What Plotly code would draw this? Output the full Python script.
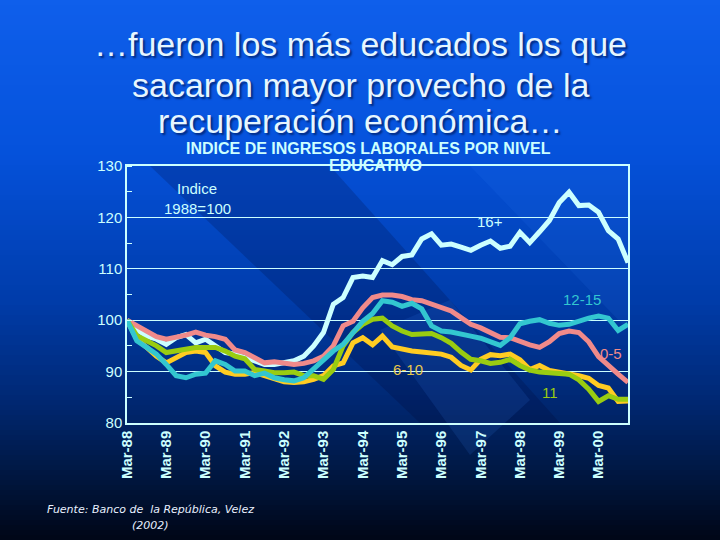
import plotly.graph_objects as go

# ---------------- data ----------------
quarters = list(range(52))  # Mar-88 ... Dec-00, quarterly
tick_pos = [0, 4, 8, 12, 16, 20, 24, 28, 32, 36, 40, 44, 48]
tick_labels = ["Mar-88", "Mar-89", "Mar-90", "Mar-91", "Mar-92", "Mar-93", "Mar-94",
               "Mar-95", "Mar-96", "Mar-97", "Mar-98", "Mar-99", "Mar-00"]

s_16 = [100, 98.2, 96.9, 96.3, 95.3, 96.6, 97.2, 95.6, 96.3, 95.0, 93.7, 93.4, 92.7,
        92.1, 91.4, 91.4, 91.7, 92.1, 93.0, 95.0, 97.6, 103.1, 104.4, 108.3, 108.6,
        108.3, 111.6, 110.8, 112.4, 112.7, 115.8, 116.8, 114.6, 114.8, 114.2, 113.6,
        114.6, 115.4, 114.0, 114.4, 117.1, 115.1, 117.2, 119.4, 122.9, 124.9, 122.3,
        122.4, 121.0, 117.4, 115.8, 111.2]
s_0_5 = [100, 98.9, 97.7, 96.8, 96.3, 96.6, 97.1, 97.7, 97.1, 96.8, 96.3, 94.2, 93.7,
         92.7, 91.7, 91.9, 91.6, 91.4, 91.6, 92.1, 93.0, 95.0, 98.9, 99.8, 102.4, 104.4,
         104.9, 104.9, 104.6, 104.0, 103.8, 103.2, 102.5, 101.8, 100.5, 99.2, 98.5, 97.5,
         96.7, 96.6, 95.8, 95.2, 94.7, 95.8, 97.4, 97.9, 97.6, 95.8, 92.9, 91.1, 89.5, 87.9]
s_6_10 = [100, 96.3, 94.7, 93.0, 91.7, 92.7, 93.7, 94.0, 93.7, 91.1, 89.9, 89.5, 89.5,
          89.8, 89.2, 88.5, 88.0, 87.9, 88.0, 88.5, 89.2, 91.1, 91.7, 95.6, 96.6, 95.2,
          96.9, 94.8, 94.3, 94.0, 93.8, 93.6, 93.4, 92.8, 91.2, 90.3, 92.4, 93.3, 93.1,
          93.4, 92.3, 90.4, 91.2, 90.2, 89.9, 89.7, 89.2, 88.7, 87.3, 86.8, 84.2, 84.3]
s_11 = [100, 97.0, 96.0, 95.0, 93.7, 94.0, 94.5, 94.7, 94.7, 94.7, 94.0, 93.0, 92.5,
        90.4, 90.1, 89.8, 89.8, 89.9, 89.2, 89.2, 88.5, 90.4, 95.0, 97.6, 99.2, 100.2,
        100.4, 98.9, 97.9, 97.2, 97.3, 97.4, 96.6, 95.5, 93.8, 92.4, 92.1, 91.6, 91.8,
        92.4, 91.2, 90.3, 89.9, 89.8, 89.8, 89.5, 88.4, 86.6, 84.2, 85.3, 84.6, 84.6]
s_12_15 = [100, 96.0, 94.7, 93.4, 91.4, 89.2, 88.8, 89.5, 89.7, 92.1, 91.4, 90.1, 90.1,
           89.2, 89.7, 88.8, 88.4, 88.2, 88.8, 90.5, 92.4, 94.0, 95.3, 97.6, 99.8, 101.3,
           103.8, 103.5, 102.7, 103.3, 102.2, 98.9, 97.9, 97.7, 97.4, 96.9, 96.5, 95.8,
           95.1, 96.6, 99.3, 99.8, 100.1, 99.4, 99.0, 99.2, 99.9, 100.4, 100.8, 100.4,
           98.0, 99.2]

y_ticks = [80, 90, 100, 110, 120, 130]

series = [
    ("16+", s_16, "#ccffff"),
    ("0-5", s_0_5, "#f08a8a"),
    ("6-10", s_6_10, "#ffcc22"),
    ("11", s_11, "#99cc11"),
    ("12-15", s_12_15, "#33c6d0"),
]

# ---------------- layout helpers ----------------
W, H = 720, 540
L, R, T, B = 127, 628, 166, 423


def px(x):
    return (x - L) / (R - L)


def py(y):
    return (B - y) / (B - T)


fig = go.Figure()
for name, vals, col in series:
    fig.add_trace(go.Scatter(x=quarters, y=vals, mode="lines", name=name,
                             line=dict(color=col, width=5), hoverinfo="skip"))

# background gradient
stops = [(0, (15, 95, 235)), (150, (5, 82, 220)), (300, (0, 60, 170)),
         (400, (0, 40, 115)), (470, (0, 24, 68)), (540, (0, 6, 22))]


def col_at(y):
    for (y0, c0), (y1, c1) in zip(stops[:-1], stops[1:]):
        if y0 <= y <= y1:
            t = (y - y0) / (y1 - y0)
            return "rgb(%d,%d,%d)" % tuple(round(a + (b - a) * t) for a, b in zip(c0, c1))
    return "rgb(0,6,22)"


shapes = []
step = 5
for y in range(0, H, step):
    shapes.append(dict(type="rect", xref="paper", yref="paper", layer="below",
                       x0=px(-5), x1=px(W + 5), y0=py(y + step + 0.5), y1=py(y),
                       fillcolor=col_at(y + step / 2), line=dict(width=0)))


def diag(pts, color):
    path = "M " + " L ".join("%f,%f" % (px(a), py(b)) for a, b in pts) + " Z"
    return dict(type="path", xref="paper", yref="paper", layer="below", path=path,
                fillcolor=color, line=dict(width=0))


shapes.append(diag([(150, 166), (330, 166), (560, 423), (420, 423)], "rgba(0,0,40,0.18)"))
shapes.append(diag([(470, 166), (628, 166), (628, 300), (628, 330)], "rgba(60,140,255,0.10)"))
shapes.append(diag([(380, 330), (450, 300), (530, 400), (470, 455)], "rgba(60,140,255,0.12)"))

title_font = dict(family="Liberation Sans, Arial", size=34, color="#e6f6ff",
                  shadow="2px 2px 2px #002a80")
ann = []
for txt, yy in [("…fueron los más educados los que", 44),
                ("sacaron mayor provecho de la", 85),
                ("recuperación económica…", 121)]:
    ann.append(dict(text=txt, x=px(360), y=py(yy), xref="paper", yref="paper",
                    showarrow=False, font=title_font, xanchor="center", yanchor="middle"))

sub_font = dict(family="Liberation Sans, Arial", size=16, color="#ccffff", weight="bold")
ann.append(dict(text="INDICE DE INGRESOS LABORALES POR NIVEL", x=px(368), y=py(148),
                xref="paper", yref="paper", showarrow=False, font=sub_font,
                xanchor="center", yanchor="middle"))
ann.append(dict(text="EDUCATIVO", x=px(375), y=py(165), xref="paper", yref="paper",
                showarrow=False, font=sub_font, xanchor="center", yanchor="middle"))

lab_font = dict(family="Liberation Sans, Arial", size=15, color="#ccffff")
ann.append(dict(text="Indice", x=px(197), y=py(188), xref="paper", yref="paper",
                showarrow=False, font=lab_font, xanchor="center", yanchor="middle"))
ann.append(dict(text="1988=100", x=px(197), y=py(208), xref="paper", yref="paper",
                showarrow=False, font=lab_font, xanchor="center", yanchor="middle"))

for txt, xx, yy, c in [("16+", 490, 221, "#ccffff"), ("12-15", 582, 299, "#33c6d0"),
                       ("0-5", 611, 353, "#f08a8a"), ("6-10", 408, 369, "#e8c84a"),
                       ("11", 550, 392, "#99cc11")]:
    ann.append(dict(text=txt, x=px(xx), y=py(yy), xref="paper", yref="paper",
                    showarrow=False, xanchor="center", yanchor="middle",
                    font=dict(family="Liberation Sans, Arial", size=15, color=c)))

src_font = dict(family="DejaVu Sans, Liberation Sans", size=11, color="#e8f0ff", style="italic")
ann.append(dict(text="Fuente: Banco de  la República, Velez", x=px(150), y=py(509),
                xref="paper", yref="paper", showarrow=False, font=src_font,
                xanchor="center", yanchor="middle"))
ann.append(dict(text="(2002)", x=px(150), y=py(525), xref="paper", yref="paper",
                showarrow=False, font=src_font, xanchor="center", yanchor="middle"))

fig.update_layout(
    width=W, height=H,
    margin=dict(l=L, r=W - R, t=T, b=H - B, pad=0),
    paper_bgcolor="#003090", plot_bgcolor="rgba(0,0,0,0)",
    showlegend=False, shapes=shapes, annotations=ann,
    xaxis=dict(range=[0, 51], tickmode="array", tickvals=tick_pos, ticktext=tick_labels,
               tickangle=-90, showgrid=False, zeroline=False, showline=True, mirror=True,
               linecolor="#ccffff", linewidth=1.5, ticks="",
               tickfont=dict(family="Liberation Sans, Arial", size=15, color="#ccffff",
                             weight="bold")),
    yaxis=dict(range=[80, 130], tickmode="array", tickvals=y_ticks, showgrid=True,
               gridcolor="#ccffff", gridwidth=1.2, zeroline=False, showline=True,
               mirror=True, linecolor="#ccffff", linewidth=1.5, ticks="",
               tickfont=dict(family="Liberation Sans, Arial", size=15, color="#ccffff"),
               minor=dict(ticks="inside", ticklen=5, tickcolor="#ccffff", dtick=5,
                          tick0=85, showgrid=False)),
)

fig.write_html("out.html", config={"displayModeBar": False},
               post_script="document.body.style.margin='0';"
                           "document.body.style.overflow='hidden';")
